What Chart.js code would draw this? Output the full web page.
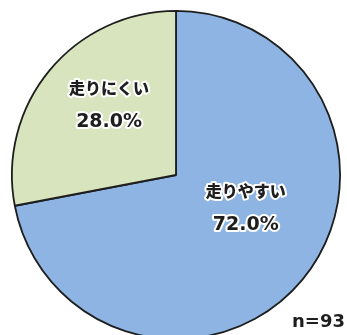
<!DOCTYPE html>
<html>
<head>
<meta charset="utf-8">
<script src="https://cdn.jsdelivr.net/npm/chart.js@4"></script>
<style>
  html, body { margin: 0; padding: 0; background: #fff; overflow: hidden; }
  .wrap { position: relative; width: 347px; height: 345px; }
</style>
</head>
<body>
<div class="wrap"><canvas id="pie"></canvas></div>
<script>
const categories = ['走りやすい', '走りにくい'];
const shares = [72.0, 28.0];
const sampleNote = 'n=93';

const sliceColors = ['#8db4e2', '#d7e4bd'];

// label placement inside each slice: fraction of radius, angle shift from mid-angle (deg)
const labelPlace = [
    { r: 0.47, shift: -14.4 },
    { r: 0.59, shift: 6.7 }
];

const sliceLabels = {
    id: 'sliceLabels',
    afterDatasetsDraw(chart) {
        const ctx = chart.ctx;
        const arcs = chart.getDatasetMeta(0).data;
        ctx.save();
        ctx.textAlign = 'center';
        ctx.textBaseline = 'middle';
        ctx.lineJoin = 'round';
        arcs.forEach((arc, i) => {
            const p = labelPlace[i];
            const mid = (arc.startAngle + arc.endAngle) / 2 + p.shift * Math.PI / 180;
            const x = arc.x + Math.cos(mid) * arc.outerRadius * p.r;
            const y = arc.y + Math.sin(mid) * arc.outerRadius * p.r;
            const lines = [
                { text: categories[i], font: '900 16px "Noto Sans CJK JP", sans-serif', dy: -17 },
                { text: shares[i].toFixed(1) + '%', font: 'bold 19px "DejaVu Sans", sans-serif', dy: 17 }
            ];
            lines.forEach(l => {
                ctx.font = l.font;
                ctx.strokeStyle = '#ffffff';
                ctx.lineWidth = 4;
                ctx.strokeText(l.text, x, y + l.dy);
                ctx.fillStyle = '#1e1e1e';
                ctx.fillText(l.text, x, y + l.dy);
            });
        });
        // sample size note
        ctx.font = 'bold 18px "DejaVu Sans", sans-serif';
        ctx.textAlign = 'right';
        ctx.textBaseline = 'alphabetic';
        ctx.fillStyle = '#1e1e1e';
        ctx.fillText(sampleNote, chart.width - 2, 327);
        ctx.restore();
    }
};

new Chart(document.getElementById('pie'), {
    type: 'pie',
    data: {
        labels: categories,
        datasets: [{
            data: shares,
            backgroundColor: sliceColors,
            borderColor: '#1e1e1e',
            borderWidth: 1.8
        }]
    },
    options: {
        responsive: true,
        maintainAspectRatio: false,
        animation: false,
        layout: { padding: { left: 11, right: 6, top: 10, bottom: 5 } },
        plugins: {
            legend: { display: false },
            tooltip: { enabled: false }
        }
    },
    plugins: [sliceLabels]
});
</script>
</body>
</html>
